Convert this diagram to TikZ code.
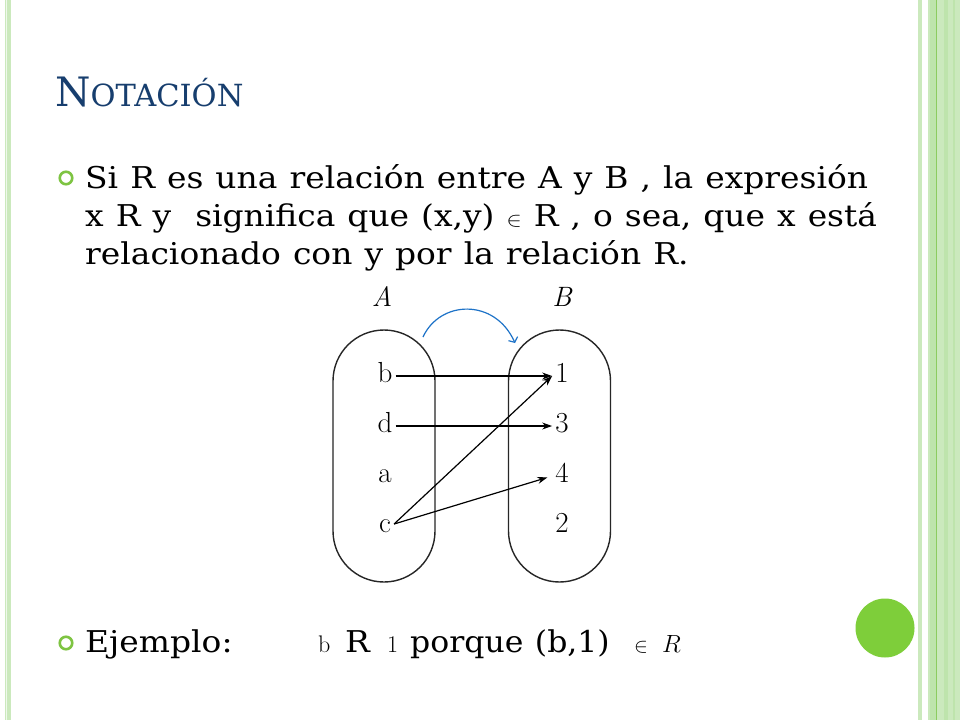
\documentclass[tikz,border=0pt]{standalone}
\usepackage{graphicx}
\usepackage{fontspec}
\newfontfamily\bodyfont[WordSpace=1.15]{DejaVu Serif}
\usetikzlibrary{arrows.meta}
\definecolor{titleblue}{RGB}{23,62,110}
\definecolor{bulletgreen}{RGB}{126,196,66}
\definecolor{ballgreen}{RGB}{126,206,58}
\definecolor{stripe}{RGB}{203,233,189}
\definecolor{stripemid}{RGB}{190,228,172}
\definecolor{stripedark}{RGB}{140,204,96}
\definecolor{arcblue}{RGB}{30,115,200}
\newcommand{\wide}[1]{\scalebox{1.097}[1]{#1}}
\begin{document}
\begin{tikzpicture}[x=1pt,y=-1pt,
  txt/.style={anchor=base west,inner sep=0pt,font=\bodyfont\fontsize{30}{38}\selectfont},
  small/.style={anchor=base west,inner sep=0pt,font=\fontsize{24}{24}\selectfont},
  bullet/.style={circle,draw=bulletgreen,line width=2.6pt,minimum size=12.5pt,inner sep=0pt},
  elem/.style={anchor=base,inner sep=3pt,text height=12pt,text depth=0pt,font=\fontsize{29}{29}\selectfont},
  setlab/.style={anchor=base,inner sep=0pt,font=\fontsize{28}{28}\selectfont\itshape},
  setbox/.style={draw=black!85,line width=1.4pt,minimum width=102pt,minimum height=252pt,rounded corners=51pt,inner sep=0pt},
  arr/.style={draw=black,line width=1.2pt,-{Stealth[length=10pt,width=7pt]}},
  arcarr/.style={draw=arcblue,line width=1.2pt,-{Straight Barb[length=4pt,width=10pt]}}
]
\useasboundingbox (0,0) rectangle (960,720);
\fill[white] (0,0) rectangle (960,720);
% left border
\fill[stripe] (5,0) rectangle (11,720);
\fill[white!70!stripe] (6,0) rectangle (6.8,720);
% right border
\fill[stripe] (918,0) rectangle (922,720);
\fill[stripe] (928,0) rectangle (960,720);
\fill[stripemid] (930,0) rectangle (935.5,720);
\fill[stripedark] (935.5,0) rectangle (937,720);
\fill[stripemid] (944,0) rectangle (948,720);
\fill[stripemid] (953,0) rectangle (955,720);
% green ball
\node[circle,fill=ballgreen,minimum size=59pt,inner sep=0pt] (ball) at (885,628) {};
% title
\node[anchor=base west,inner sep=0pt,text=titleblue] (title) at (55,106)
  {\bodyfont\fontsize{40.5}{40}\selectfont N\fontsize{30.5}{30}\selectfont OTACIÓN};
% bullets and text
\node[bullet] (bul1) at (66,178) {};
\node[txt] (l1) at (85,188) {\wide{Si R es una relación entre A y B , la expresión}};
\node[txt] (l2) at (85,226) {\wide{x R y\ \ significa que (x,y) {\fontsize{22}{22}\selectfont$\in$} R , o sea, que x está}};
\node[txt] (l3) at (85,264) {\wide{relacionado con y por la relación R.}};
\node[bullet] (bul2) at (66,643) {};
\node[txt] (ex0) at (85,652) {\wide{Ejemplo:}};
\node[small] (exb) at (318,652) {b};
\node[txt] (exR) at (345,652) {\wide{R}};
\node[small] (ex1) at (387,652) {1};
\node[txt] (exp) at (410,652) {\scalebox{1.05}[1]{porque (b,1)}};
\node[small,font=\fontsize{21}{21}\selectfont] (exin) at (634,652) {$\in$};
\node[anchor=base west,inner sep=0pt,font=\fontsize{28}{28}\selectfont] (exRi) at (662,652) {$R$};
% diagram
\node[setlab] (labA) at (382,306) {A};
\node[setlab] (labB) at (562,306) {B};
\node[setbox] (SA) at (384,456) {};
\node[setbox] (SB) at (559.5,456) {};
\node[elem] (b) at (385,382) {b};
\node[elem] (d) at (385,432) {d};
\node[elem] (a) at (385,482) {a};
\node[elem] (c) at (385,532) {c};
\node[elem] (n1) at (562,382) {1};
\node[elem] (n3) at (562,432) {3};
\node[elem] (n4) at (562,482) {4};
\node[elem] (n2) at (562,532) {2};
\draw[arr] (b.east) -- (n1.west);
\draw[arr] (d.east) -- (n3.west);
\draw[arr] ([yshift=2pt]c.east) -- (n1.west);
\draw[arr,shorten >=5pt] ([yshift=2pt]c.east) -- (n4.west);
\coordinate (arcS) at (423,337);
\coordinate (arcE) at (515,343);
\draw[arcarr] (arcS) .. controls (440,300) and (495,298) .. (arcE);
\end{tikzpicture}
\end{document}
